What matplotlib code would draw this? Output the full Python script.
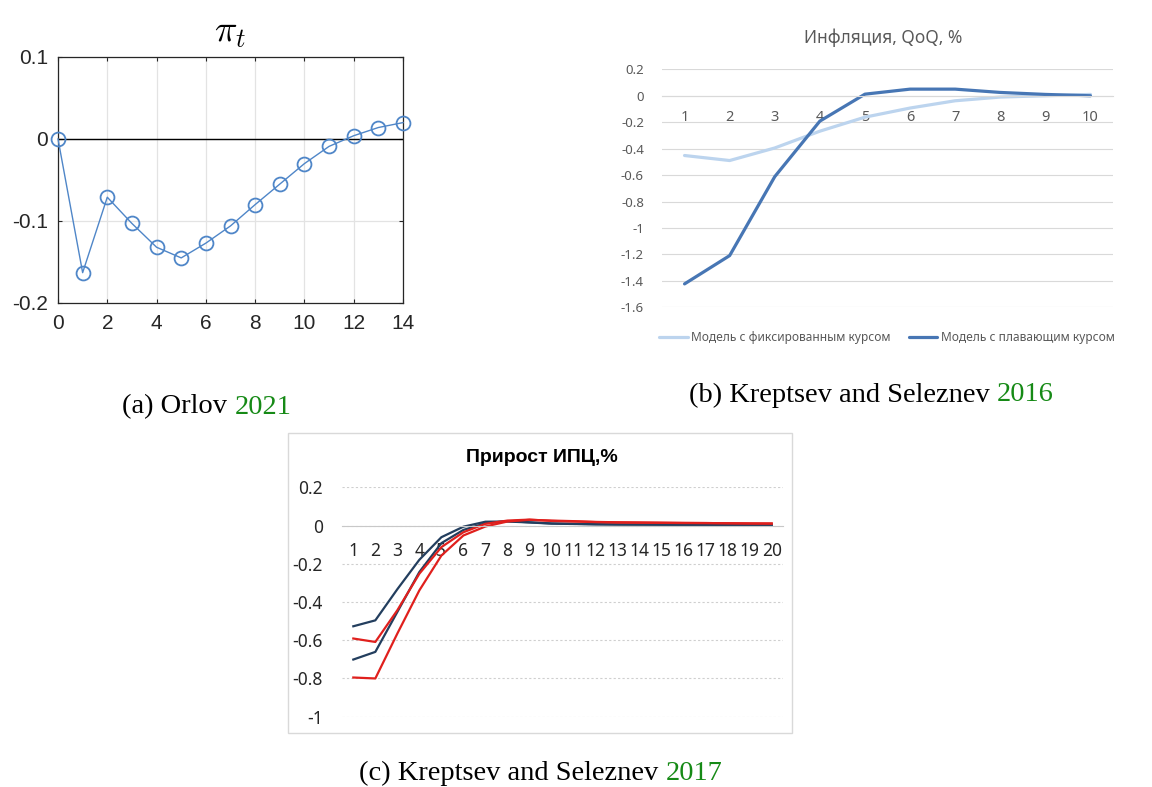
import numpy as np
import matplotlib
matplotlib.use("Agg")
import matplotlib.pyplot as plt
from matplotlib.patches import Rectangle

# ---------------------------------------------------------------------------
# Data
# ---------------------------------------------------------------------------
# (a) Orlov 2021: inflation response pi_t
orlov_t = list(range(15))
orlov_pi = [0.0, -0.163, -0.071, -0.103, -0.132, -0.145, -0.127, -0.106,
            -0.080, -0.055, -0.030, -0.009, 0.004, 0.014, 0.020]

# (b) Kreptsev and Seleznev 2016: inflation QoQ, %
ks16_q = list(range(1, 11))
ks16_fixed = [-0.452, -0.490, -0.395, -0.268, -0.162, -0.093, -0.038, -0.010, 0.0, 0.01]
ks16_float = [-1.423, -1.209, -0.612, -0.192, 0.012, 0.050, 0.050, 0.025, 0.010, 0.0]
ks16_labels = ["Модель с фиксированным курсом", "Модель с плавающим курсом"]

# (c) Kreptsev and Seleznev 2017: CPI growth, %
ks17_q = list(range(1, 21))
ks17_dark_hi = [-0.527, -0.496, -0.333, -0.179, -0.061, -0.006, 0.020, 0.021, 0.016, 0.010,
                0.008, 0.006, 0.005, 0.005, 0.004, 0.004, 0.004, 0.003, 0.003, 0.003]
ks17_dark_lo = [-0.701, -0.661, -0.452, -0.243, -0.092, -0.023, 0.012, 0.023, 0.017, 0.011,
                0.009, 0.007, 0.006, 0.005, 0.005, 0.004, 0.004, 0.004, 0.003, 0.003]
ks17_red_hi = [-0.591, -0.609, -0.443, -0.252, -0.113, -0.035, 0.009, 0.026, 0.031, 0.024,
               0.021, 0.018, 0.016, 0.015, 0.014, 0.013, 0.013, 0.012, 0.011, 0.011]
ks17_red_lo = [-0.795, -0.800, -0.565, -0.339, -0.157, -0.052, -0.005, 0.021, 0.030, 0.026,
               0.023, 0.019, 0.017, 0.016, 0.015, 0.014, 0.013, 0.012, 0.011, 0.010]

captions = [("(a) Orlov ", "2021"),
            ("(b) Kreptsev and Seleznev ", "2016"),
            ("(c) Kreptsev and Seleznev ", "2017")]

# ---------------------------------------------------------------------------
# Figure
# ---------------------------------------------------------------------------
W, H = 1152, 787
plt.rcParams["mathtext.fontset"] = "cm"
fig = plt.figure(figsize=(W / 100, H / 100), dpi=100)


def box(x0, y0, x1, y1):
    """Pixel box (top-left origin) -> figure fraction rect."""
    return [x0 / W, 1 - y1 / H, (x1 - x0) / W, (y1 - y0) / H]


# ----- (a) MATLAB-style plot -----
matlab_font = ["Liberation Sans", "DejaVu Sans"]
ax_a = fig.add_axes(box(58, 57, 403, 303))
ax_a.plot(orlov_t, orlov_pi, color="#4f86c8", lw=1.0, marker="o", ms=10,
          mfc="none", mec="#4f86c8", mew=1.3, clip_on=False, zorder=3)
ax_a.axhline(0, color="black", lw=1.0, zorder=2)
ax_a.set_xlim(0, 14)
ax_a.set_ylim(-0.2, 0.1)
ax_a.set_xticks(range(0, 15, 2))
ax_a.set_yticks([-0.2, -0.1, 0, 0.1])
ax_a.set_yticklabels(["-0.2", "-0.1", "0", "0.1"])
ax_a.grid(True, color="#e3e3e3", lw=0.9)
ax_a.set_axisbelow(True)
for s in ax_a.spines.values():
    s.set_color("#262626")
    s.set_linewidth(0.9)
ax_a.tick_params(direction="in", length=3, width=0.8, top=True, right=True,
                 labelsize=15, colors="#262626")
ax_a.tick_params(axis="x", pad=8)
ax_a.tick_params(axis="y", pad=7)
for lab in ax_a.get_xticklabels() + ax_a.get_yticklabels():
    lab.set_family(matlab_font)
ax_a.set_title(r"$\pi_t$", fontsize=27, pad=11, color="black")

# ----- (b) Excel-style chart -----
excel_font = ["Noto Sans", "DejaVu Sans"]
grey_txt = "#595959"
ax_b = fig.add_axes(box(662, 69.3, 1113, 307.3))
ax_b.plot(ks16_q, ks16_fixed, color="#bcd4ee", lw=2.3, label=ks16_labels[0],
          solid_capstyle="round")
ax_b.plot(ks16_q, ks16_float, color="#4776b4", lw=2.3, label=ks16_labels[1],
          solid_capstyle="round")
ax_b.set_xlim(0.5, 10.5)
ax_b.set_ylim(-1.6, 0.2)
ax_b.set_yticks(np.arange(-1.6, 0.21, 0.2))
ax_b.set_yticklabels(["-1.6", "-1.4", "-1.2", "-1", "-0.8", "-0.6", "-0.4",
                      "-0.2", "0", "0.2"])
ax_b.yaxis.grid(True, color="#d9d9d9", lw=0.8)
ax_b.set_axisbelow(True)
for side in ("top", "right", "left"):
    ax_b.spines[side].set_visible(False)
ax_b.spines["bottom"].set_position(("data", 0))
ax_b.spines["bottom"].set_color("#d9d9d9")
ax_b.set_xticks(ks16_q)
ax_b.tick_params(length=0, colors=grey_txt, labelsize=9.5)
ax_b.tick_params(axis="x", pad=10, labelsize=10.5)
ax_b.tick_params(axis="y", pad=13)
for lab in ax_b.get_xticklabels() + ax_b.get_yticklabels():
    lab.set_family(excel_font)
fig.text(883 / W, 1 - 38 / H, "Инфляция, QoQ, %", ha="center", va="center",
         fontsize=12.5, color=grey_txt, family=excel_font)
fig.legend(handles=ax_b.get_lines(), labels=ks16_labels, loc="center",
           bbox_to_anchor=(887 / W, 1 - 338 / H), ncol=2, frameon=False,
           handlelength=2.4, handletextpad=0.3, columnspacing=1.5,
           prop={"family": excel_font, "size": 8.6}, labelcolor=grey_txt)

# ----- (c) Excel-style chart in a bordered frame -----
fig.patches.append(Rectangle((288 / W, 1 - 733 / H), (792 - 288) / W, (733 - 433) / H,
                             transform=fig.transFigure, fill=False,
                             edgecolor="#d9d9d9", lw=1.0))
ax_c = fig.add_axes(box(342.3, 487.3, 782.7, 716.7))
navy, red = "#233e5e", "#e0201d"
ax_c.plot(ks17_q, ks17_dark_hi, color=navy, lw=1.6)
ax_c.plot(ks17_q, ks17_dark_lo, color=navy, lw=1.6)
ax_c.plot(ks17_q, ks17_red_hi, color=red, lw=1.6)
ax_c.plot(ks17_q, ks17_red_lo, color=red, lw=1.6)
ax_c.set_xlim(0.5, 20.5)
ax_c.set_ylim(-1.0, 0.2)
ax_c.set_yticks(np.arange(-1.0, 0.21, 0.2))
ax_c.set_yticklabels(["-1", "-0.8", "-0.6", "-0.4", "-0.2", "0", "0.2"])
ax_c.yaxis.grid(True, color="#cfcfcf", lw=0.8, ls=(0, (2, 2)))
ax_c.set_axisbelow(True)
for side in ("top", "right", "left"):
    ax_c.spines[side].set_visible(False)
ax_c.spines["bottom"].set_position(("data", 0))
ax_c.spines["bottom"].set_color("#c8c8c8")
ax_c.set_xticks(ks17_q)
ax_c.tick_params(length=0, colors="#262626", labelsize=12.5)
ax_c.tick_params(axis="x", pad=12)
ax_c.tick_params(axis="y", pad=14)
for lab in ax_c.get_xticklabels() + ax_c.get_yticklabels():
    lab.set_family(excel_font)
fig.text(542 / W, 1 - 457 / H, "Прирост ИПЦ,%", ha="center", va="center",
         fontsize=14, fontweight="bold", color="black",
         family=["Liberation Sans", "DejaVu Sans"])

# ----- captions: black text followed by a green year -----
cap_pos = [(207, 407), (871, 395), (541, 773)]
serif = ["Liberation Serif", "DejaVu Serif"]
renderer = fig.canvas.get_renderer()
for (body, year), (cx, cy) in zip(captions, cap_pos):
    t1 = fig.text(0, 1 - cy / H, body, ha="left", va="center", fontsize=20.5,
                  family=serif, color="black")
    t2 = fig.text(0, 1 - cy / H, year, ha="left", va="center", fontsize=20.5,
                  family=serif, color="#168a16")
    w1 = t1.get_window_extent(renderer).width
    w2 = t2.get_window_extent(renderer).width
    x0 = cx - (w1 + w2) / 2
    t1.set_x(x0 / W)
    t2.set_x((x0 + w1) / W)

fig.savefig("out.png", dpi=100)
